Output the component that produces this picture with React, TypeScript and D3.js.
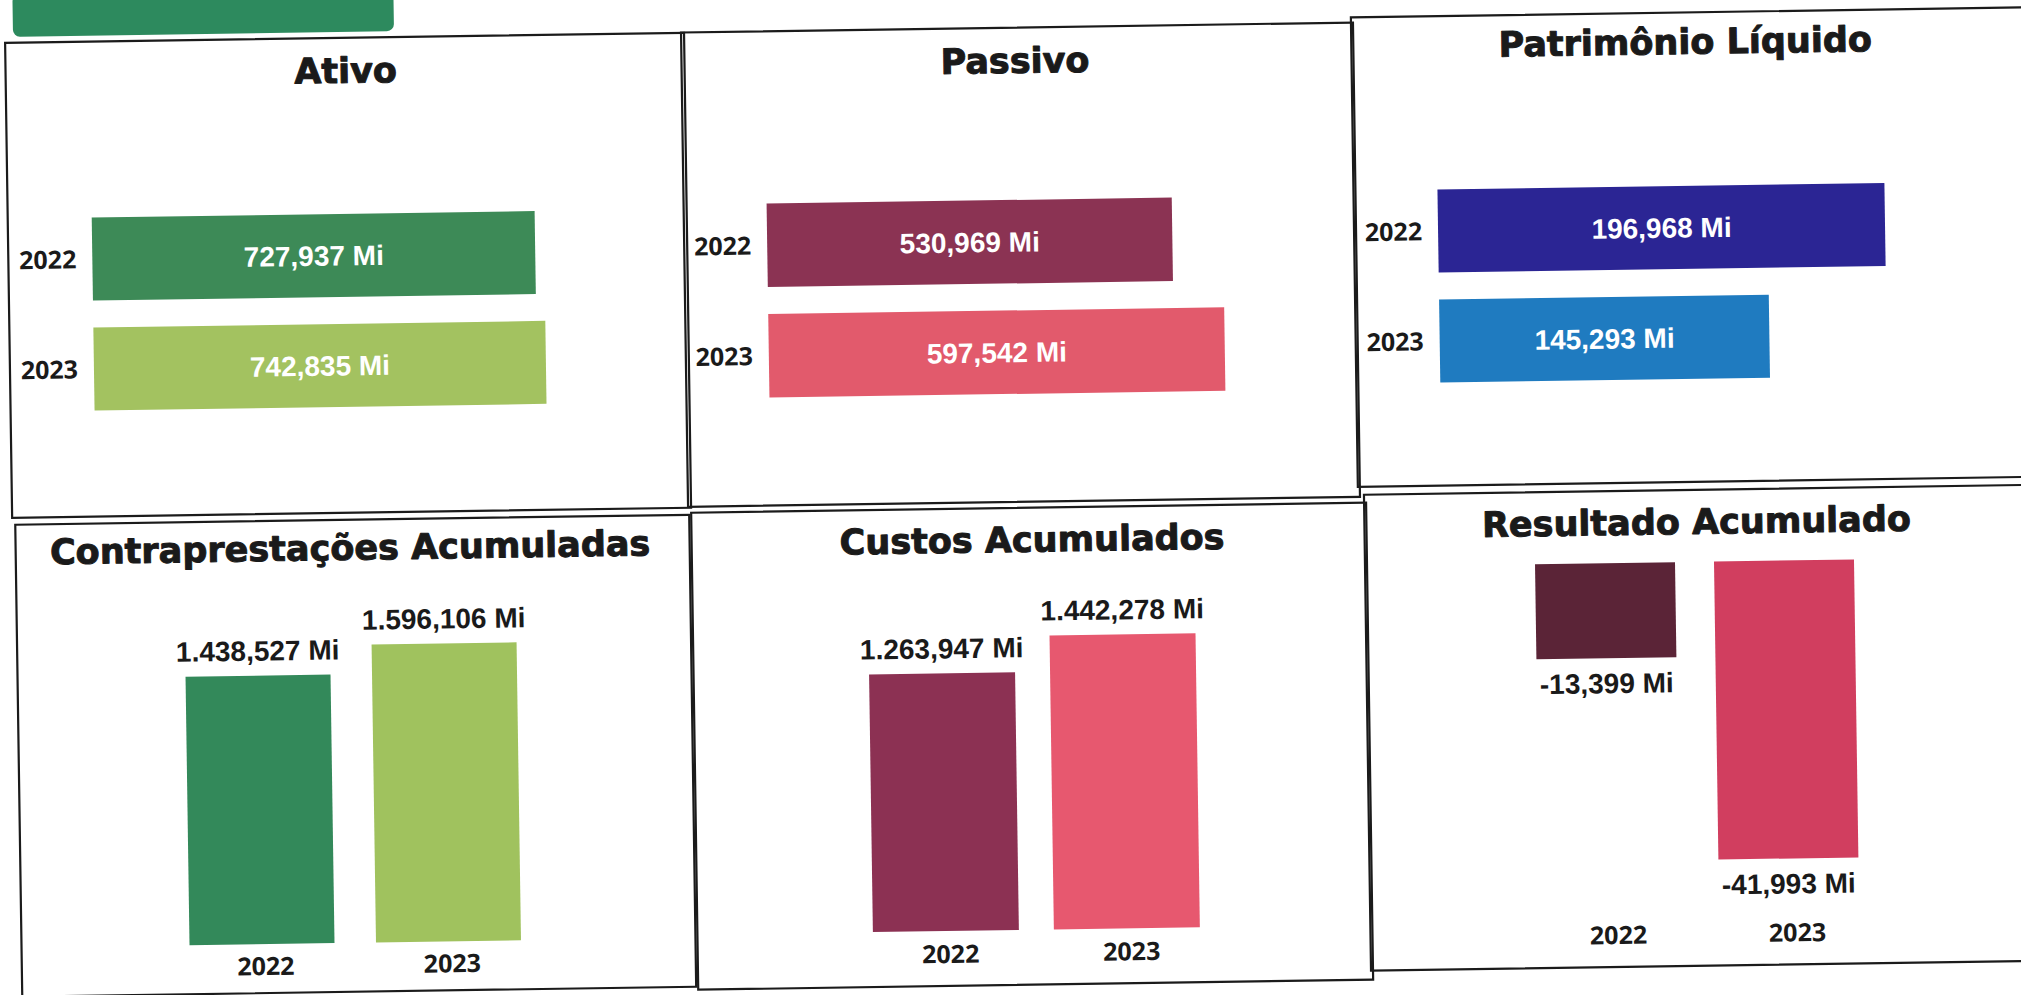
import React from "react";
import * as d3 from "d3";

// ---- data ----
const years = ["2022", "2023"];
const ativo = [727.937, 742.835];
const passivo = [530.969, 597.542];
const patrimonio = [196.968, 145.293];
const contraprestacoes = [1438.527, 1596.106];
const custos = [1263.947, 1442.278];
const resultado = [-13.399, -41.993];
const titles = [
  "Ativo",
  "Passivo",
  "Patrimônio Líquido",
  "Contraprestações Acumuladas",
  "Custos Acumulados",
  "Resultado Acumulado",
];

const locale = d3.formatLocale({
  decimal: ",",
  thousands: ".",
  grouping: [3],
  currency: ["R$", ""],
  minus: "-",
});
const num = locale.format(",.3f");
const fmt = (v: number) => `${num(v)} Mi`;

const TITLE_FONT = "'DejaVu Sans', sans-serif";
const VALUE_FONT = "'Liberation Sans', Arial, sans-serif";
const YEAR_FONT = "'Open Sans', sans-serif";

// ---- layout (positions/styles) ----
const hPanels = [
  { title: titles[0], values: ativo, colors: ["#3d8a57", "#a3c260"], box: [12, 28, 691, 503], titleX: 352, titleY: 73, x0: 96, w: 452, band: [190.5, 410.5], pad: 27 / 110, labelRight: 80 },
  { title: titles[1], values: passivo, colors: ["#8b3353", "#e25a6c"], box: [688, 27.7, 1360, 502], titleX: 1021.5, titleY: 73, x0: 771, w: 456, band: [186.5, 407.5], pad: 27 / 110.5, labelRight: 755 },
  { title: titles[2], values: patrimonio, colors: ["#2b2594", "#1f7bc0"], box: [1358, 22.5, 2030, 492], titleX: 1692, titleY: 64, x0: 1442, w: 447, band: [182.5, 402.5], pad: 27 / 110, labelRight: 1426 },
];

const vPanels = [
  { title: titles[3], values: contraprestacoes, colors: ["#33895a", "#a0c25e"], box: [15, 510, 689, 982], titleX: 349.5, titleY: 550, band: [162.25, 535.25], pad: 41.5 / 186.5, y0: 933, h: 298, yearY: 964, yearDx: 3.5 },
  { title: titles[4], values: custos, colors: ["#8c3153", "#e7586f"], box: [691, 508, 1366, 985], titleX: 1031.5, titleY: 552, band: [849, 1211], pad: 35 / 181, y0: 930, h: 294, yearY: 962, yearDx: 4.5 },
  { title: titles[5], values: resultado, colors: ["#5b2437", "#d13e5f"], box: [1364, 500, 2034, 976], titleX: 1696, titleY: 544, band: [1514.5, 1872.5], pad: 39 / 179, y0: 572, h: 298, yearY: 953, yearDx: 8 },
];

function PanelBox({ box }: { box: number[] }) {
  return (
    <rect x={box[0]} y={box[1]} width={box[2] - box[0]} height={box[3] - box[1]} fill="none" stroke="#1b1b1b" strokeWidth={2.2} />
  );
}

function Title({ x, y, children }: any) {
  return (
    <text x={x} y={y} textAnchor="middle" fontFamily={TITLE_FONT} fontWeight={700} fontSize={35} fill="#1a1a1a" stroke="#1a1a1a" strokeWidth={1} strokeLinejoin="round">{children}</text>
  );
}

function HPanel(p: any) {
  const y = d3.scaleBand<string>().domain(years).range(p.band).paddingInner(p.pad).paddingOuter(p.pad / 2);
  const maxV = d3.max(p.values as number[]) as number;
  const x = d3.scaleLinear().domain([0, maxV]).range([p.x0, p.x0 + p.w]);
  return (
    <g>
      <PanelBox box={p.box} />
      <Title x={p.titleX} y={p.titleY}>{p.title}</Title>
      {years.map((yr, i) => {
        const v = p.values[i];
        const top = y(yr) as number;
        const bw = y.bandwidth();
        const cy = top + bw / 2;
        return (
          <g key={yr}>
            <rect x={x(0)} y={top} width={x(v) - x(0)} height={bw} fill={p.colors[i]} />
            <text x={(x(0) + x(v)) / 2} y={cy + 10} textAnchor="middle" fontFamily={VALUE_FONT} fontWeight={700} fontSize={28} fill="#ffffff">{fmt(v)}</text>
            <text x={p.labelRight} y={cy + 9} textAnchor="end" fontFamily={YEAR_FONT} fontWeight={700} fontSize={25} fill="#1a1a1a">{yr}</text>
          </g>
        );
      })}
    </g>
  );
}

function VPanel(p: any) {
  const x = d3.scaleBand<string>().domain(years).range(p.band).paddingInner(p.pad).paddingOuter(p.pad / 2);
  const vals = p.values as number[];
  const ext = vals.reduce((a, b) => (Math.abs(b) > Math.abs(a) ? b : a), 0);
  const y = d3.scaleLinear().domain([0, ext]).range([p.y0, p.y0 - Math.sign(ext) * p.h]);
  return (
    <g>
      <PanelBox box={p.box} />
      <Title x={p.titleX} y={p.titleY}>{p.title}</Title>
      {years.map((yr, i) => {
        const v = vals[i];
        const left = x(yr) as number;
        const bw = x.bandwidth();
        const cx = left + bw / 2;
        const y0 = y(0);
        const yv = y(v);
        const top = Math.min(y0, yv);
        const hgt = Math.abs(yv - y0);
        const labelY = v >= 0 ? yv - 15 : yv + 35;
        return (
          <g key={yr}>
            <rect x={left} y={top} width={bw} height={hgt} fill={p.colors[i]} />
            <text x={cx} y={labelY} textAnchor="middle" fontFamily={VALUE_FONT} fontWeight={700} fontSize={28} fill="#1a1a1a">{fmt(v)}</text>
            <text x={cx + p.yearDx} y={p.yearY} textAnchor="middle" fontFamily={YEAR_FONT} fontWeight={700} fontSize={25} fill="#1a1a1a">{yr}</text>
          </g>
        );
      })}
    </g>
  );
}

export default function App() {
  return (
    <svg width={2021} height={995} style={{ position: "absolute", left: 0, top: 0, background: "#ffffff" }}>
      <rect x={0} y={0} width={2021} height={995} fill="#ffffff" />
      <g transform="rotate(-0.85, 1010, 500)">
        <rect x={20} y={-20} width={381} height={42} rx={7} fill="#2d8a5e" />
        {hPanels.map((p) => (
          <HPanel key={p.title} {...p} />
        ))}
        {vPanels.map((p) => (
          <VPanel key={p.title} {...p} />
        ))}
      </g>
    </svg>
  );
}
